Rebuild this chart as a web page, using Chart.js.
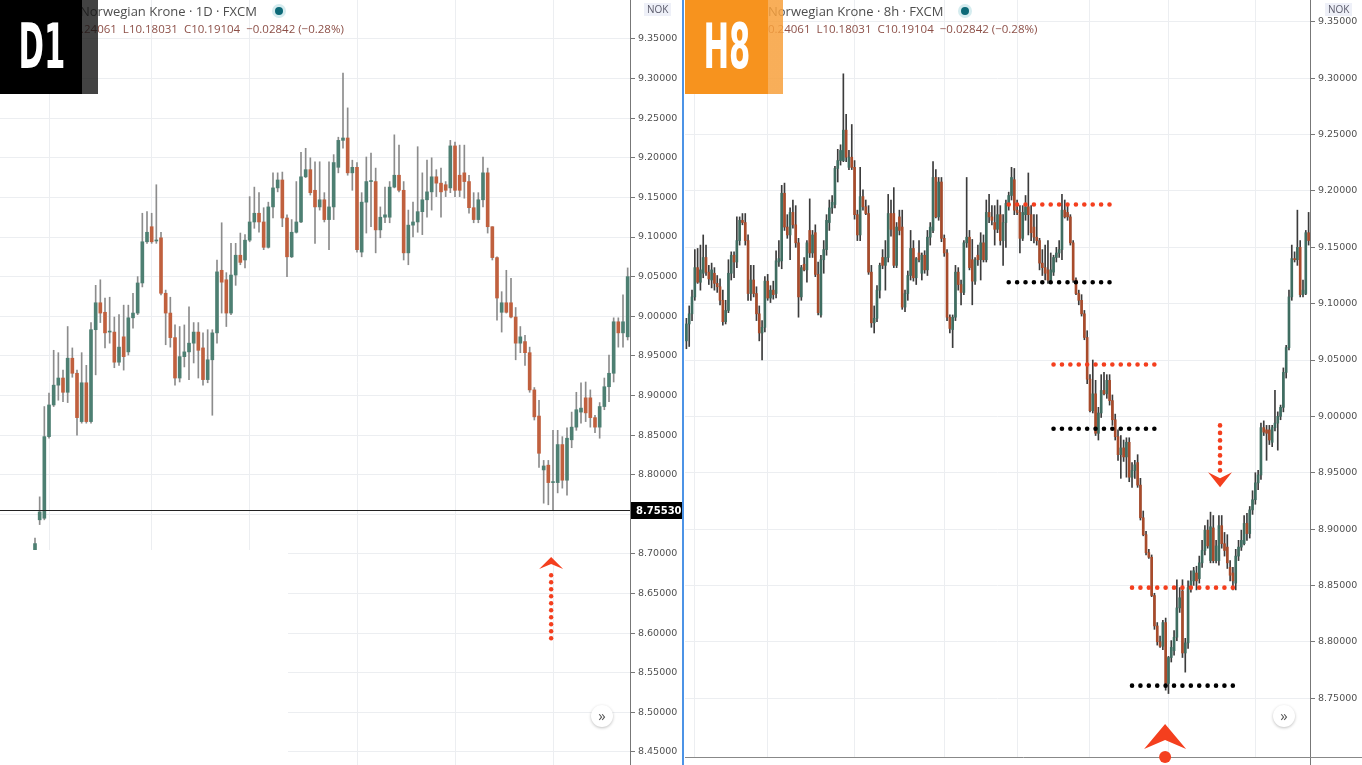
<!DOCTYPE html>
<html>
<head>
<meta charset="utf-8">
<title>Norwegian Krone D1 / H8</title>
<script src="https://cdn.jsdelivr.net/npm/chart.js@4.4.1/dist/chart.umd.min.js"></script>
<style>
  html, body { margin: 0; padding: 0; background: #fff; }
  body { width: 1362px; height: 765px; position: relative; overflow: hidden; font-family: "Open Sans", sans-serif; }
  canvas { position: absolute; top: 0; }
  #leftChart { left: 0; }
  #rightChart { left: 685px; }
  .split { position: absolute; left: 682px; top: 0; width: 2px; height: 765px; background: #4c93e6; }
  .title { position: absolute; top: 2px; font-size: 13px; color: #4e4e4e; white-space: nowrap; }
  .title .dot { display: inline-block; width: 8px; height: 8px; border-radius: 50%; background: #0d6a78;
                box-shadow: 0 0 0 3px #d5ecef; margin-left: 18px; vertical-align: 1px; }
  .ohlc { position: absolute; top: 21px; font-size: 11.5px; color: #8d5048; white-space: nowrap; }
  .ohlc .hid { position: absolute; right: 100%; }
  .badge { position: absolute; top: 0; height: 94px; width: 98px; overflow: hidden; }
  .badge span { position: absolute; left: 0; top: 14px; width: 82px; text-align: center; color: #fff;
                font-family: "DejaVu Sans Condensed", "DejaVu Sans", sans-serif; font-weight: bold;
                font-size: 62px; line-height: 66px; transform: scaleX(0.55); }
  .d1 { left: 0; background: linear-gradient(to right, #000 0 82px, rgba(20,20,20,0.8) 82px); }
  .h8 { left: 685px; background: linear-gradient(to right, #f7931e 0 83px, rgba(247,160,60,0.85) 83px); }
  .cur { position: absolute; top: 3px; font-size: 10px; color: #5a5a6a; background: #eef0f8; padding: 0 3px; line-height: 13px; }
  .nav { position: absolute; top: 705px; width: 22px; height: 22px; border-radius: 50%; background: #fff;
         box-shadow: 0 1px 3px rgba(0,0,0,0.25); font-size: 15px; line-height: 20px; text-align: center; color: #555; }
</style>
</head>
<body>
<canvas id="leftChart" width="682" height="765"></canvas>
<canvas id="rightChart" width="677" height="765"></canvas>
<div class="split"></div>

<div class="title" style="left:80px">Norwegian Krone · 1D · FXCM<span class="dot"></span></div>
<div class="ohlc" style="left:81px"><span class="hid">H10</span>.24061&nbsp; L10.18031&nbsp; C10.19104&nbsp; −0.02842 (−0.28%)</div>
<div class="title" style="left:768px">Norwegian Krone · 8h · FXCM<span class="dot"></span></div>
<div class="ohlc" style="left:768px"><span class="hid">H1</span>0.24061&nbsp; L10.18031&nbsp; C10.19104&nbsp; −0.02842 (−0.28%)</div>

<div class="badge d1"><span>D1</span></div>
<div class="badge h8"><span>H8</span></div>

<div class="cur" style="left:644px">NOK</div>
<div class="cur" style="left:1325px">NOK</div>
<div class="nav" style="left:591px">»</div>
<div class="nav" style="left:1273px">»</div>

<script>
// ---------- D1 (daily) candles ----------
const lOpen = [8.702,8.743,8.745,8.848,8.888,8.913,8.922,8.904,8.947,8.928,
  8.867,8.916,8.867,8.983,9.017,9.005,8.980,8.980,8.942,8.974,
  8.955,8.998,9.004,9.042,9.094,9.113,9.095,9.099,9.029,9.004,
  8.973,8.922,8.949,8.955,8.966,8.980,8.960,8.920,8.945,8.979,
  9.058,9.046,9.004,9.052,9.077,9.071,9.096,9.119,9.130,9.119,
  9.087,9.138,9.162,9.172,9.124,9.075,9.106,9.119,9.176,9.185,
  9.159,9.138,9.147,9.122,9.138,9.188,9.222,9.225,9.181,9.188,
  9.081,9.144,9.170,9.170,9.109,9.125,9.125,9.163,9.178,9.159,
  9.080,9.115,9.119,9.132,9.147,9.157,9.176,9.168,9.166,9.162,
  9.215,9.178,9.181,9.170,9.137,9.122,9.147,9.181,9.113,9.074,
  9.005,9.017,9.017,8.999,8.966,8.968,8.954,8.907,8.874,8.806,
  8.812,8.790,8.790,8.838,8.793,8.844,8.860,8.879,8.897,8.897,
  8.872,8.860,8.886,8.911,8.928,8.993,8.979,8.974];
const lHigh = [8.720,8.772,8.886,8.903,8.957,8.954,8.932,8.987,8.960,8.932,
  8.954,8.938,8.992,9.039,9.046,9.023,9.024,8.999,9.002,9.014,
  9.014,9.029,9.050,9.130,9.132,9.130,9.166,9.106,9.033,9.024,
  8.989,8.987,8.989,9.012,8.992,8.992,8.979,8.983,8.983,9.071,
  9.118,9.055,9.092,9.092,9.105,9.103,9.151,9.163,9.156,9.137,
  9.144,9.181,9.181,9.182,9.128,9.122,9.170,9.207,9.212,9.200,
  9.195,9.195,9.156,9.195,9.204,9.226,9.307,9.263,9.197,9.194,
  9.156,9.201,9.206,9.187,9.138,9.163,9.170,9.229,9.216,9.170,
  9.134,9.144,9.214,9.181,9.197,9.200,9.185,9.187,9.170,9.222,
  9.220,9.216,9.216,9.178,9.156,9.156,9.201,9.187,9.113,9.075,
  9.031,9.058,9.048,9.011,8.987,8.976,8.961,8.910,8.894,8.818,
  8.818,8.856,8.856,8.848,8.859,8.879,8.904,8.916,8.917,8.907,
  8.875,8.891,8.922,8.951,8.998,8.998,9.027,9.061];
const lLow = [8.697,8.737,8.743,8.846,8.886,8.894,8.892,8.891,8.923,8.850,
  8.865,8.865,8.865,8.926,8.992,8.960,8.966,8.935,8.938,8.932,
  8.951,8.985,9.002,9.037,9.092,9.092,9.092,9.027,8.964,8.961,
  8.913,8.917,8.936,8.920,8.941,8.922,8.913,8.916,8.875,8.966,
  9.004,8.987,9.002,9.039,9.065,9.061,9.094,9.111,9.106,9.084,
  9.086,9.124,9.157,9.113,9.050,9.074,9.105,9.118,9.175,9.153,
  9.092,9.134,9.119,9.084,9.122,9.181,9.212,9.178,9.159,9.081,
  9.075,9.105,9.113,9.080,9.099,9.118,9.118,9.162,9.157,9.071,
  9.065,9.100,9.106,9.103,9.125,9.134,9.151,9.125,9.151,9.156,
  9.151,9.151,9.149,9.130,9.118,9.118,9.138,9.105,9.071,8.995,
  8.980,9.004,8.998,8.945,8.954,8.938,8.904,8.869,8.809,8.764,
  8.762,8.755,8.777,8.783,8.774,8.834,8.856,8.865,8.867,8.860,
  8.853,8.846,8.882,8.892,8.917,8.961,8.961,8.970];
const lClose = [8.713,8.753,8.848,8.888,8.913,8.922,8.904,8.947,8.928,8.872,
  8.916,8.867,8.983,9.017,9.004,8.979,8.981,8.942,8.961,8.949,
  8.998,9.004,9.042,9.094,9.106,9.094,9.096,9.029,9.004,8.973,
  8.922,8.949,8.955,8.966,8.980,8.957,8.920,8.945,8.979,9.056,
  9.043,9.004,9.052,9.077,9.068,9.096,9.119,9.130,9.119,9.087,
  9.138,9.162,9.172,9.124,9.075,9.106,9.119,9.176,9.185,9.156,
  9.138,9.147,9.122,9.138,9.194,9.222,9.225,9.181,9.188,9.084,
  9.144,9.170,9.171,9.109,9.125,9.128,9.163,9.178,9.159,9.080,
  9.115,9.119,9.132,9.147,9.157,9.176,9.168,9.157,9.159,9.215,
  9.159,9.159,9.170,9.137,9.122,9.147,9.181,9.113,9.074,9.023,
  9.017,9.005,8.999,8.966,8.974,8.954,8.907,8.873,8.827,8.811,
  8.790,8.791,8.838,8.793,8.846,8.860,8.882,8.884,8.878,8.872,
  8.860,8.886,8.911,8.928,8.993,8.979,8.993,9.050];
const lHiddenDays = 7;                 // bars hidden under the blank corner
const lTicks = [9.35,9.30,9.25,9.20,9.15,9.10,9.05,9.00,8.95,8.90,8.85,8.80,8.75,8.70,8.65,8.60,8.55,8.50,8.45];
const lWeekBars = [10,32,53,76,97,118];
const lLastPrice = 8.7553;
const lArrow = { bar: 117.6, tip: 8.696, tailTop: 8.673, tailBottom: 8.585 };

// ---------- H8 candles ----------
const rOpen = [9.067,9.082,9.091,9.106,9.132,9.119,9.127,9.141,9.128,9.121,
  9.127,9.118,9.115,9.103,9.084,9.094,9.127,9.143,9.137,9.156,
  9.174,9.172,9.156,9.109,9.121,9.109,9.091,9.074,9.079,9.120,
  9.105,9.112,9.109,9.137,9.138,9.198,9.168,9.161,9.181,9.170,
  9.154,9.106,9.135,9.130,9.165,9.145,9.163,9.126,9.090,9.139,
  9.148,9.172,9.185,9.188,9.220,9.227,9.227,9.254,9.221,9.230,
  9.221,9.179,9.161,9.195,9.186,9.180,9.128,9.083,9.087,9.112,
  9.141,9.134,9.141,9.180,9.180,9.134,9.177,9.168,9.097,9.109,
  9.125,9.149,9.123,9.145,9.127,9.143,9.130,9.159,9.165,9.212,
  9.177,9.208,9.158,9.145,9.088,9.077,9.088,9.128,9.117,9.110,
  9.154,9.159,9.139,9.120,9.143,9.139,9.154,9.139,9.181,9.177,
  9.172,9.166,9.179,9.156,9.172,9.189,9.196,9.210,9.183,9.181,
  9.158,9.179,9.186,9.179,9.168,9.159,9.156,9.136,9.132,9.130,
  9.121,9.128,9.141,9.145,9.148,9.183,9.181,9.177,9.154,9.121,
  9.109,9.103,9.091,9.070,9.033,9.005,9.020,8.985,9.003,9.023,
  9.020,9.032,9.014,8.997,8.982,8.966,8.972,8.964,8.977,8.946,
  8.952,8.959,8.939,8.910,8.895,8.879,8.875,8.841,8.814,8.800,
  8.796,8.817,8.763,8.786,8.792,8.804,8.830,8.845,8.790,8.799,
  8.848,8.854,8.861,8.856,8.870,8.881,8.899,8.872,8.901,8.872,
  8.872,8.903,8.887,8.884,8.866,8.861,8.852,8.876,8.884,8.887,
  8.905,8.896,8.917,8.926,8.941,8.948,8.990,8.988,8.988,8.977,
  8.990,8.994,9.000,9.008,9.039,9.061,9.106,9.140,9.139,9.150,
  9.108,9.109,9.163];
const rHigh = [9.087,9.098,9.112,9.148,9.149,9.152,9.161,9.152,9.134,9.136,
  9.132,9.125,9.122,9.112,9.103,9.139,9.146,9.146,9.177,9.177,
  9.180,9.180,9.161,9.134,9.134,9.115,9.098,9.085,9.124,9.126,
  9.116,9.120,9.147,9.156,9.205,9.207,9.179,9.185,9.192,9.187,
  9.158,9.134,9.141,9.156,9.193,9.165,9.170,9.137,9.143,9.156,
  9.179,9.192,9.196,9.222,9.237,9.241,9.304,9.268,9.236,9.259,
  9.227,9.183,9.221,9.201,9.192,9.187,9.134,9.098,9.116,9.136,
  9.148,9.156,9.197,9.192,9.203,9.172,9.183,9.183,9.112,9.129,
  9.165,9.156,9.141,9.156,9.145,9.147,9.165,9.172,9.226,9.219,
  9.212,9.212,9.161,9.148,9.090,9.090,9.134,9.132,9.121,9.156,
  9.212,9.165,9.157,9.141,9.152,9.163,9.161,9.192,9.197,9.187,
  9.187,9.192,9.187,9.179,9.192,9.199,9.221,9.220,9.192,9.187,
  9.187,9.196,9.216,9.187,9.179,9.179,9.158,9.148,9.152,9.156,
  9.145,9.143,9.150,9.156,9.197,9.192,9.187,9.179,9.156,9.123,
  9.112,9.108,9.094,9.076,9.037,9.050,9.032,9.008,9.037,9.039,
  9.037,9.037,9.019,9.002,8.988,8.983,8.979,8.981,8.981,8.959,
  8.961,8.966,8.945,8.916,8.898,8.882,8.877,8.843,8.817,8.805,
  8.819,8.821,8.787,8.801,8.810,8.855,8.848,8.855,8.803,8.854,
  8.863,8.866,8.867,8.876,8.890,8.903,8.908,8.915,8.912,8.890,
  8.912,8.912,8.897,8.895,8.872,8.866,8.882,8.890,8.899,8.912,
  8.914,8.920,8.934,8.950,8.952,8.994,8.996,8.992,8.992,8.992,
  9.023,9.004,9.010,9.043,9.063,9.112,9.152,9.146,9.183,9.156,
  9.121,9.165,9.181];
const rLow = [9.060,9.062,9.085,9.103,9.118,9.112,9.123,9.125,9.117,9.114,
  9.112,9.110,9.099,9.081,9.082,9.092,9.121,9.123,9.132,9.152,
  9.170,9.152,9.103,9.103,9.106,9.085,9.067,9.050,9.075,9.103,
  9.101,9.104,9.105,9.133,9.131,9.165,9.158,9.139,9.167,9.150,
  9.088,9.103,9.129,9.119,9.141,9.141,9.124,9.090,9.088,9.127,
  9.143,9.165,9.180,9.185,9.208,9.223,9.226,9.226,9.219,9.219,
  9.175,9.156,9.156,9.183,9.179,9.126,9.079,9.074,9.084,9.105,
  9.131,9.112,9.137,9.160,9.132,9.132,9.161,9.095,9.093,9.103,
  9.121,9.120,9.117,9.137,9.121,9.127,9.125,9.152,9.163,9.176,
  9.174,9.155,9.142,9.085,9.074,9.061,9.085,9.112,9.099,9.108,
  9.150,9.130,9.099,9.117,9.134,9.121,9.137,9.137,9.172,9.170,
  9.152,9.163,9.152,9.134,9.150,9.183,9.192,9.179,9.179,9.145,
  9.156,9.174,9.161,9.156,9.154,9.152,9.130,9.125,9.121,9.118,
  9.118,9.125,9.137,9.141,9.139,9.176,9.174,9.152,9.119,9.108,
  9.099,9.089,9.068,9.029,9.004,9.003,8.983,8.979,8.999,9.019,
  9.016,9.010,8.992,8.979,8.961,8.945,8.960,8.946,8.942,8.937,
  8.945,8.937,8.908,8.894,8.877,8.874,8.840,8.811,8.797,8.795,
  8.793,8.757,8.754,8.782,8.788,8.801,8.826,8.786,8.773,8.794,
  8.844,8.850,8.846,8.852,8.866,8.877,8.883,8.870,8.870,8.870,
  8.868,8.883,8.876,8.865,8.854,8.846,8.846,8.872,8.881,8.886,
  8.890,8.892,8.913,8.922,8.935,8.944,8.983,8.961,8.975,8.973,
  8.987,8.970,8.997,9.004,9.034,9.059,9.103,9.137,9.134,9.106,
  9.106,9.108,9.152];
const rClose = [9.082,9.091,9.106,9.132,9.119,9.130,9.141,9.128,9.122,9.130,
  9.118,9.115,9.103,9.084,9.094,9.127,9.143,9.137,9.156,9.174,
  9.172,9.156,9.109,9.121,9.109,9.091,9.074,9.079,9.120,9.105,
  9.112,9.108,9.138,9.140,9.198,9.168,9.161,9.181,9.170,9.154,
  9.106,9.132,9.130,9.154,9.145,9.161,9.126,9.092,9.139,9.148,
  9.174,9.185,9.190,9.220,9.227,9.236,9.254,9.230,9.230,9.221,
  9.179,9.161,9.195,9.186,9.180,9.128,9.083,9.087,9.112,9.134,
  9.134,9.141,9.180,9.166,9.134,9.168,9.165,9.097,9.109,9.125,
  9.149,9.123,9.140,9.139,9.143,9.130,9.159,9.168,9.212,9.177,
  9.208,9.158,9.145,9.088,9.078,9.088,9.128,9.117,9.110,9.154,
  9.159,9.132,9.120,9.139,9.139,9.154,9.139,9.181,9.177,9.174,
  9.166,9.179,9.156,9.172,9.189,9.196,9.212,9.183,9.181,9.158,
  9.181,9.186,9.179,9.163,9.159,9.156,9.136,9.132,9.127,9.121,
  9.130,9.141,9.145,9.148,9.183,9.177,9.177,9.154,9.121,9.109,
  9.103,9.091,9.070,9.033,9.005,9.020,8.985,9.003,9.023,9.020,
  9.032,9.014,8.997,8.982,8.966,8.972,8.964,8.977,8.946,8.952,
  8.957,8.939,8.910,8.895,8.879,8.875,8.841,8.814,8.800,8.796,
  8.817,8.763,8.786,8.795,8.804,8.830,8.839,8.790,8.799,8.848,
  8.854,8.863,8.854,8.870,8.881,8.899,8.885,8.902,8.872,8.885,
  8.903,8.887,8.881,8.870,8.859,8.854,8.876,8.884,8.890,8.905,
  8.896,8.917,8.926,8.941,8.948,8.990,8.986,8.985,8.979,8.990,
  8.994,9.000,9.008,9.039,9.061,9.106,9.140,9.139,9.150,9.108,
  9.112,9.163,9.156];
const rTicks = [9.35,9.30,9.25,9.20,9.15,9.10,9.05,9.00,8.95,8.90,8.85,8.80,8.75];
const rWeekBars = [3,29,60,92,118,144,172,203];
// marked swing levels: price, first bar, last bar, kind
const levelPrice = [9.188, 9.119, 9.046, 8.989, 8.848, 8.761];
const levelFrom  = [115, 115, 131, 131, 159, 159];
const levelTo    = [151, 151, 168, 168, 196, 196];
const levelKind  = ['high', 'low', 'high', 'low', 'high', 'low'];
const rDownArrow = { bar: 190.4, tailTop: 8.992, tailBottom: 8.952, tip: 8.937 };
const rUpArrow = { bar: 170.8, tip: 8.727 };

const RED = '#f43f1e';
const GRID = '#eceef1';

function candleSets(o, h, l, c, lead, upCol, downCol, wickCol, bodyW) {
  const body = [], wick = [], fill = [];
  for (let i = 0; i < lead; i++) { body.push(null); wick.push(null); fill.push('rgba(0,0,0,0)'); }
  for (let i = 0; i < o.length; i++) {
    body.push([o[i], c[i]]);
    wick.push([l[i], h[i]]);
    fill.push(c[i] >= o[i] ? upCol : downCol);
  }
  return [
    { type: 'bar', data: body, backgroundColor: fill, borderWidth: 0, barThickness: bodyW,
      grouped: false, minBarLength: 1, order: 1 },
    { type: 'bar', data: wick, backgroundColor: wickCol, borderWidth: 0, barThickness: 1,
      grouped: false, order: 2 }
  ];
}

function levelSets(n) {
  return levelPrice.map((p, k) => {
    const d = new Array(n).fill(null);
    for (let i = levelFrom[k]; i <= levelTo[k]; i++) d[i] = p;
    return { type: 'line', data: d, borderColor: levelKind[k] === 'high' ? RED : '#000',
      borderWidth: 4.6, borderDash: [0, 8.4], borderCapStyle: 'round',
      pointRadius: 0, fill: false, order: 0 };
  });
}

function priceAxis(min, max, ticks, w) {
  return {
    position: 'right', min: min, max: max,
    afterBuildTicks: s => { s.ticks = ticks.map(v => ({ value: v })); },
    afterFit: s => { s.width = w; s.paddingTop = 0; s.paddingBottom = 0; },
    ticks: { callback: v => v.toFixed(5), color: '#505050', padding: 3,
             font: { family: 'DejaVu Sans', size: 9.5 } },
    grid: { color: GRID, tickColor: '#777', tickLength: 5 },
    border: { color: '#777' }
  };
}

function timeAxis(weekBars) {
  return {
    offset: true,
    afterFit: s => { s.height = 0; s.paddingLeft = 0; s.paddingRight = 0; },
    ticks: { display: false, autoSkip: false },
    grid: { offset: false, drawTicks: false,
            color: ctx => weekBars.includes(ctx.index) ? GRID : 'rgba(0,0,0,0)' },
    border: { display: false }
  };
}

function dots(ctx, x, y0, y1, r, gap) {
  for (let y = y0; y <= y1 + 0.1; y += gap) {
    ctx.beginPath(); ctx.arc(x, y, r, 0, Math.PI * 2); ctx.fill();
  }
}
// s = 1 points up, s = -1 points down
function chevron(ctx, x, tipY, w, h, notch, s) {
  ctx.beginPath();
  ctx.moveTo(x, tipY);
  ctx.lineTo(x + w / 2, tipY + s * h);
  ctx.lineTo(x, tipY + s * (h - notch));
  ctx.lineTo(x - w / 2, tipY + s * h);
  ctx.closePath(); ctx.fill();
}

const leftOverlay = {
  id: 'leftOverlay',
  afterDraw(chart) {
    const { ctx, chartArea: a, scales: { x, y } } = chart;
    ctx.save();
    ctx.fillStyle = '#fff';
    ctx.fillRect(a.left, 550, 288, a.bottom - 550);
    const py = Math.round(y.getPixelForValue(lLastPrice)) + 0.5;
    ctx.strokeStyle = '#222'; ctx.lineWidth = 1;
    ctx.beginPath(); ctx.moveTo(a.left, py); ctx.lineTo(a.right, py); ctx.stroke();
    ctx.fillStyle = '#000';
    ctx.fillRect(a.right + 1, py - 8.5, 52, 17);
    ctx.fillStyle = '#fff'; ctx.font = 'bold 10px DejaVu Sans'; ctx.textBaseline = 'middle';
    ctx.fillText(lLastPrice.toFixed(5), a.right + 6, py + 0.5);
    ctx.fillStyle = RED;
    const ax = x.getPixelForValue(lArrow.bar);
    chevron(ctx, ax, y.getPixelForValue(lArrow.tip), 24, 12, 5, 1);
    dots(ctx, ax, y.getPixelForValue(lArrow.tailTop), y.getPixelForValue(lArrow.tailBottom), 2.2, 7);
    ctx.restore();
  }
};

const rightOverlay = {
  id: 'rightOverlay',
  afterDraw(chart) {
    const { ctx, chartArea: a, scales: { x, y } } = chart;
    ctx.save();
    ctx.fillStyle = '#fff';
    ctx.fillRect(a.left, 757, a.width, a.bottom - 757);
    ctx.strokeStyle = '#888'; ctx.lineWidth = 1;
    ctx.beginPath(); ctx.moveTo(0, 757.5); ctx.lineTo(chart.width, 757.5); ctx.stroke();
    ctx.fillStyle = RED;
    const dx = x.getPixelForValue(rDownArrow.bar);
    dots(ctx, dx, y.getPixelForValue(rDownArrow.tailTop), y.getPixelForValue(rDownArrow.tailBottom), 2.3, 7.5);
    chevron(ctx, dx, y.getPixelForValue(rDownArrow.tip), 24, 15, 6, -1);
    const ux = x.getPixelForValue(rUpArrow.bar);
    const uy = y.getPixelForValue(rUpArrow.tip);
    chevron(ctx, ux, uy, 42, 25, 9, 1);
    ctx.beginPath(); ctx.arc(ux, uy + 33, 6, 0, Math.PI * 2); ctx.fill();
    ctx.beginPath(); ctx.arc(ux, uy + 47, 6, 0, Math.PI * 2); ctx.fill();
    ctx.restore();
  }
};

function baseOptions(min, max, ticks, axisW, weekBars) {
  return {
    responsive: false, animation: false, devicePixelRatio: 1, events: [],
    layout: { padding: 0 },
    plugins: { legend: { display: false }, tooltip: { enabled: false } },
    scales: { x: timeAxis(weekBars), y: priceAxis(min, max, ticks, axisW) }
  };
}

const lCount = lHiddenDays + lOpen.length;
new Chart(document.getElementById('leftChart'), {
  type: 'bar',
  data: {
    labels: Array.from({ length: lCount }, (_, i) => 'D' + (i + 1)),
    datasets: candleSets(lOpen, lHigh, lLow, lClose, lHiddenDays, '#4d7f72', '#c0603e', '#8c8c8c', 3)
  },
  options: baseOptions(8.4335, 9.3992, lTicks, 52, lWeekBars),
  plugins: [leftOverlay]
});

const rCount = rOpen.length;
new Chart(document.getElementById('rightChart'), {
  type: 'bar',
  data: {
    labels: Array.from({ length: rCount }, (_, i) => 'H' + (i + 1)),
    datasets: levelSets(rCount).concat(
      candleSets(rOpen, rHigh, rLow, rClose, 0, '#3f6d61', '#a84b2b', '#3c3c3c', 2))
  },
  options: baseOptions(8.6906, 9.3695, rTicks, 52, rWeekBars),
  plugins: [rightOverlay]
});
</script>
</body>
</html>
